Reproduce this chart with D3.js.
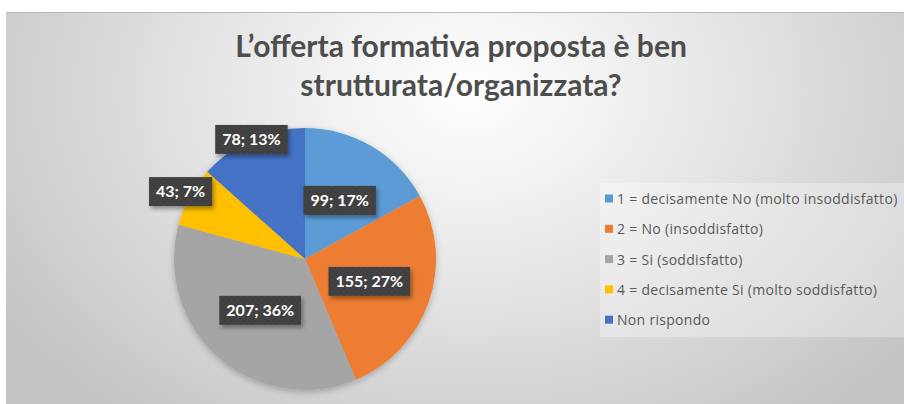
<!DOCTYPE html>
<html>
<head>
<meta charset="utf-8">
<script src="https://cdn.jsdelivr.net/npm/d3@7"></script>
<style>
  html, body { margin: 0; padding: 0; background: #fff; }
  svg { display: block; }
</style>
</head>
<body>
<div id="chart"></div>
<script>
// Chart data
const titleLines = ['L\u2019offerta formativa proposta \u00e8 ben', 'strutturata/organizzata?'];
const categories = [
  '1 = decisamente No (molto insoddisfatto)',
  '2 = No (insoddisfatto)',
  '3 = Si (soddisfatto)',
  '4 = decisamente Si (molto soddisfatto)',
  'Non rispondo'
];
const values = [99, 155, 207, 43, 78];
const colors = ['#5b9bd5', '#ed7d31', '#a5a5a5', '#ffc000', '#4472c4'];

const width = 904, height = 404;
const total = d3.sum(values);
const data = categories.map((c, i) => ({ name: c, value: values[i], color: colors[i] }));

const svg = d3.select('#chart').append('svg')
  .attr('width', width)
  .attr('height', height);

const defs = svg.append('defs');

// background gradient: light in the middle-top, grey at the edges
const bg = defs.append('radialGradient')
  .attr('id', 'bg')
  .attr('gradientUnits', 'userSpaceOnUse')
  .attr('cx', 470).attr('cy', 90).attr('r', 560)
  .attr('gradientTransform', 'translate(470,90) scale(1,0.75) translate(-470,-90)');
bg.append('stop').attr('offset', '0%').attr('stop-color', '#ffffff');
bg.append('stop').attr('offset', '35%').attr('stop-color', '#ececec');
bg.append('stop').attr('offset', '100%').attr('stop-color', '#c4c4c4');

// dotted pattern for the label boxes
const pat = defs.append('pattern')
  .attr('id', 'dots')
  .attr('width', 6).attr('height', 6)
  .attr('patternUnits', 'userSpaceOnUse');
pat.append('rect').attr('width', 6).attr('height', 6).attr('fill', '#404040');
pat.append('circle').attr('cx', 1.5).attr('cy', 1.5).attr('r', 0.8).attr('fill', '#4c4c4c');
pat.append('circle').attr('cx', 4.5).attr('cy', 4.5).attr('r', 0.8).attr('fill', '#4c4c4c');

const shadow = defs.append('filter').attr('id', 'shadow')
  .attr('x', '-20%').attr('y', '-20%').attr('width', '140%').attr('height', '140%');
shadow.append('feDropShadow')
  .attr('dx', 0).attr('dy', 2).attr('stdDeviation', 3)
  .attr('flood-color', '#000').attr('flood-opacity', 0.25);

const boxShadow = defs.append('filter').attr('id', 'boxShadow')
  .attr('x', '-20%').attr('y', '-30%').attr('width', '150%').attr('height', '170%');
boxShadow.append('feDropShadow')
  .attr('dx', 2).attr('dy', 3).attr('stdDeviation', 2)
  .attr('flood-color', '#000').attr('flood-opacity', 0.35);

// chart area
svg.append('rect')
  .attr('x', 6).attr('y', 12)
  .attr('width', width - 6).attr('height', height - 12)
  .attr('fill', 'url(#bg)');
svg.append('line')
  .attr('x1', 6).attr('x2', width)
  .attr('y1', 12.5).attr('y2', 12.5)
  .attr('stroke', '#b8b8b8').attr('stroke-width', 1);

// Title
svg.append('g')
  .selectAll('text')
  .data(titleLines)
  .join('text')
  .attr('x', 461)
  .attr('y', (d, i) => 57 + i * 39)
  .attr('text-anchor', 'middle')
  .attr('font-family', 'Lato, "Open Sans", sans-serif')
  .attr('font-weight', 'bold')
  .attr('font-size', '30px')
  .attr('fill', '#4d4d4d')
  .text(d => d);

// Pie
const cx = 305, cy = 259, radius = 131;
const pie = d3.pie().sort(null).value(d => d.value);
const arc = d3.arc().innerRadius(0).outerRadius(radius);
const arcs = pie(data);

const g = svg.append('g').attr('transform', `translate(${cx},${cy})`);

g.append('g')
  .attr('filter', 'url(#shadow)')
  .selectAll('path')
  .data(arcs)
  .join('path')
  .attr('d', arc)
  .attr('fill', d => d.data.color);

// Data labels (best-fit: inside for big slices, at the edge for small ones)
function labelRadius(d) {
  const share = d.data.value / total;
  if (share < 0.1) return radius * 1.08;
  if (share < 0.15) return radius * 1.0;
  return radius * 0.52;
}

const labels = g.append('g')
  .selectAll('g')
  .data(arcs)
  .join('g')
  .attr('transform', d => {
    const a = (d.startAngle + d.endAngle) / 2;
    const r = labelRadius(d);
    return `translate(${Math.sin(a) * r},${-Math.cos(a) * r})`;
  });

labels.append('text')
  .attr('text-anchor', 'middle')
  .attr('dy', '0.36em')
  .attr('font-family', 'Lato, "Open Sans", sans-serif')
  .attr('font-weight', 'bold')
  .attr('font-size', '16px')
  .attr('fill', '#ffffff')
  .text(d => `${d.data.value}; ${Math.round(d.data.value / total * 100)}%`);

labels.each(function() {
  const grp = d3.select(this);
  const bb = grp.select('text').node().getBBox();
  grp.insert('rect', 'text')
    .attr('x', bb.x - 7)
    .attr('y', -14.5)
    .attr('width', bb.width + 14)
    .attr('height', 29)
    .attr('fill', 'url(#dots)')
    .attr('filter', 'url(#boxShadow)');
});

// Legend
const legend = svg.append('g').attr('transform', 'translate(600,183)');
legend.append('rect')
  .attr('width', 304).attr('height', 154)
  .attr('fill', '#ffffff').attr('fill-opacity', 0.3);

const item = legend.selectAll('g')
  .data(data)
  .join('g')
  .attr('transform', (d, i) => `translate(5,${16 + i * 30.3})`);

item.append('rect')
  .attr('x', 0).attr('y', -4.5)
  .attr('width', 8).attr('height', 8)
  .attr('fill', d => d.color);

item.append('text')
  .attr('x', 12)
  .attr('dy', '0.35em')
  .attr('font-family', '"Open Sans", sans-serif')
  .attr('font-size', '14px')
  .attr('letter-spacing', '0.3px')
  .attr('fill', '#595959')
  .text(d => d.name);
</script>
</body>
</html>
